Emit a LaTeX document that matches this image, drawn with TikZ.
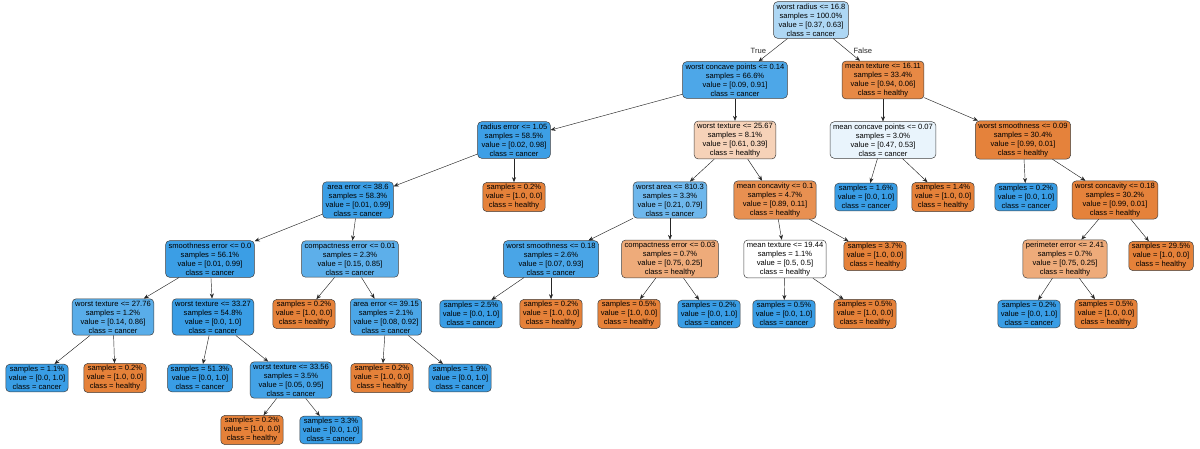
\documentclass[tikz,border=0pt]{standalone}
\usepackage{fontspec}
\setmainfont{Liberation Sans}
\usetikzlibrary{arrows.meta}
\definecolor{cb}{HTML}{399DE5}
\definecolor{co}{HTML}{E58139}
\tikzset{
  n/.style={draw=black!75, rounded corners=4pt, align=center, inner xsep=3pt, inner ysep=2pt,
    font=\fontsize{7.6}{9}\selectfont, line width=0.5pt},
  B/.style={n, fill=cb!#1!white},
  O/.style={n, fill=co!#1!white},
  e/.style={-{Stealth[length=5pt,width=4pt]}, line width=0.45pt, black!85},
  lab/.style={font=\fontsize{7.6}{9}\selectfont}
}
\begin{document}
\begin{tikzpicture}[x=1pt,y=-1pt]
\useasboundingbox (0,0) rectangle (1200,448);
% level 0
\node[B=41] (r) at (811,20) {worst radius <= 16.8\\samples = 100.0\%\\value = [0.37, 0.63]\\class = cancer};
% level 1
\node[B=90] (a) at (735,80) {worst concave points <= 0.14\\samples = 66.6\%\\value = [0.09, 0.91]\\class = cancer};
\node[O=94] (b) at (883,80) {mean texture <= 16.11\\samples = 33.4\%\\value = [0.94, 0.06]\\class = healthy};
% level 2
\node[B=98] (c) at (514,140) {radius error <= 1.05\\samples = 58.5\%\\value = [0.02, 0.98]\\class = cancer};
\node[O=36] (d) at (735,140) {worst texture <= 25.67\\samples = 8.1\%\\value = [0.61, 0.39]\\class = healthy};
\node[B=11] (f) at (883,140) {mean concave points <= 0.07\\samples = 3.0\%\\value = [0.47, 0.53]\\class = cancer};
\node[O=99] (g) at (1023,140) {worst smoothness <= 0.09\\samples = 30.4\%\\value = [0.99, 0.01]\\class = healthy};
% level 3
\node[B=99] (h) at (358,200) {area error <= 38.6\\samples = 58.3\%\\value = [0.01, 0.99]\\class = cancer};
\node[O=100] (i) at (514,197) {samples = 0.2\%\\value = [1.0, 0.0]\\class = healthy};
\node[B=73] (j) at (670,200) {worst area <= 810.3\\samples = 3.3\%\\value = [0.21, 0.79]\\class = cancer};
\node[O=88] (k) at (775,200) {mean concavity <= 0.1\\samples = 4.7\%\\value = [0.89, 0.11]\\class = healthy};
\node[B=100] (l) at (866,197) {samples = 1.6\%\\value = [0.0, 1.0]\\class = cancer};
\node[O=100] (m) at (943,197) {samples = 1.4\%\\value = [1.0, 0.0]\\class = healthy};
\node[B=100] (o) at (1026,197) {samples = 0.2\%\\value = [0.0, 1.0]\\class = cancer};
\node[O=99] (p) at (1115,200) {worst concavity <= 0.18\\samples = 30.2\%\\value = [0.99, 0.01]\\class = healthy};
% level 4
\node[B=99] (q) at (210,259) {smoothness error <= 0.0\\samples = 56.1\%\\value = [0.01, 0.99]\\class = cancer};
\node[B=82] (s) at (350,259) {compactness error <= 0.01\\samples = 2.3\%\\value = [0.15, 0.85]\\class = cancer};
\node[B=92] (t) at (551,259) {worst smoothness <= 0.18\\samples = 2.6\%\\value = [0.07, 0.93]\\class = cancer};
\node[O=67] (u) at (670,259) {compactness error <= 0.03\\samples = 0.7\%\\value = [0.75, 0.25]\\class = healthy};
\node[fill=white,n] (v) at (785,259) {mean texture <= 19.44\\samples = 1.1\%\\value = [0.5, 0.5]\\class = healthy};
\node[O=100] (w) at (875,256) {samples = 3.7\%\\value = [1.0, 0.0]\\class = healthy};
\node[O=67] (x) at (1065,259) {perimeter error <= 2.41\\samples = 0.7\%\\value = [0.75, 0.25]\\class = healthy};
\node[O=100] (y) at (1161,256) {samples = 29.5\%\\value = [1.0, 0.0]\\class = healthy};
% level 5
\node[B=84] (q1) at (113,317) {worst texture <= 27.76\\samples = 1.2\%\\value = [0.14, 0.86]\\class = cancer};
\node[B=100] (q2) at (213,317) {worst texture <= 33.27\\samples = 54.8\%\\value = [0.0, 1.0]\\class = cancer};
\node[O=100] (s1) at (304,314) {samples = 0.2\%\\value = [1.0, 0.0]\\class = healthy};
\node[B=91] (s2) at (386,317) {area error <= 39.15\\samples = 2.1\%\\value = [0.08, 0.92]\\class = cancer};
\node[B=100] (t1) at (471,314) {samples = 2.5\%\\value = [0.0, 1.0]\\class = cancer};
\node[O=100] (t2) at (551,314) {samples = 0.2\%\\value = [1.0, 0.0]\\class = healthy};
\node[O=100] (u1) at (629,314) {samples = 0.5\%\\value = [1.0, 0.0]\\class = healthy};
\node[B=100] (u2) at (709,314) {samples = 0.2\%\\value = [0.0, 1.0]\\class = cancer};
\node[B=100] (v1) at (784,314) {samples = 0.5\%\\value = [0.0, 1.0]\\class = cancer};
\node[O=100] (v2) at (865,314) {samples = 0.5\%\\value = [1.0, 0.0]\\class = healthy};
\node[B=100] (x1) at (1029,314) {samples = 0.2\%\\value = [0.0, 1.0]\\class = cancer};
\node[O=100] (x2) at (1106,314) {samples = 0.5\%\\value = [1.0, 0.0]\\class = healthy};
% level 6
\node[B=100] (a1) at (37,378) {samples = 1.1\%\\value = [0.0, 1.0]\\class = cancer};
\node[O=100] (a2) at (115,378) {samples = 0.2\%\\value = [1.0, 0.0]\\class = healthy};
\node[B=100] (b1) at (200,378) {samples = 51.3\%\\value = [0.0, 1.0]\\class = cancer};
\node[B=95] (b2) at (291,380) {worst texture <= 33.56\\samples = 3.5\%\\value = [0.05, 0.95]\\class = cancer};
\node[O=100] (c1) at (382,378) {samples = 0.2\%\\value = [1.0, 0.0]\\class = healthy};
\node[B=100] (c2) at (460,378) {samples = 1.9\%\\value = [0.0, 1.0]\\class = cancer};
% level 7
\node[O=100] (d1) at (252,430) {samples = 0.2\%\\value = [1.0, 0.0]\\class = healthy};
\node[B=100] (d2) at (331,430) {samples = 3.3\%\\value = [0.0, 1.0]\\class = cancer};
% edges
\draw[e] (r) -- node[lab,pos=0.55,left=2pt] {True} (a);
\draw[e] (r) -- node[lab,pos=0.55,right=2pt] {False} (b);
\foreach \p/\c in {a/c,a/d,b/f,b/g,c/h,c/i,d/j,d/k,f/l,f/m,g/o,g/p,h/q,h/s,j/t,j/u,k/v,k/w,p/x,p/y,
  q/q1,q/q2,s/s1,s/s2,t/t1,t/t2,u/u1,u/u2,v/v1,v/v2,x/x1,x/x2,q1/a1,q1/a2,q2/b1,q2/b2,s2/c1,s2/c2,b2/d1,b2/d2}
  \draw[e] (\p) -- (\c);
\end{tikzpicture}
\end{document}
